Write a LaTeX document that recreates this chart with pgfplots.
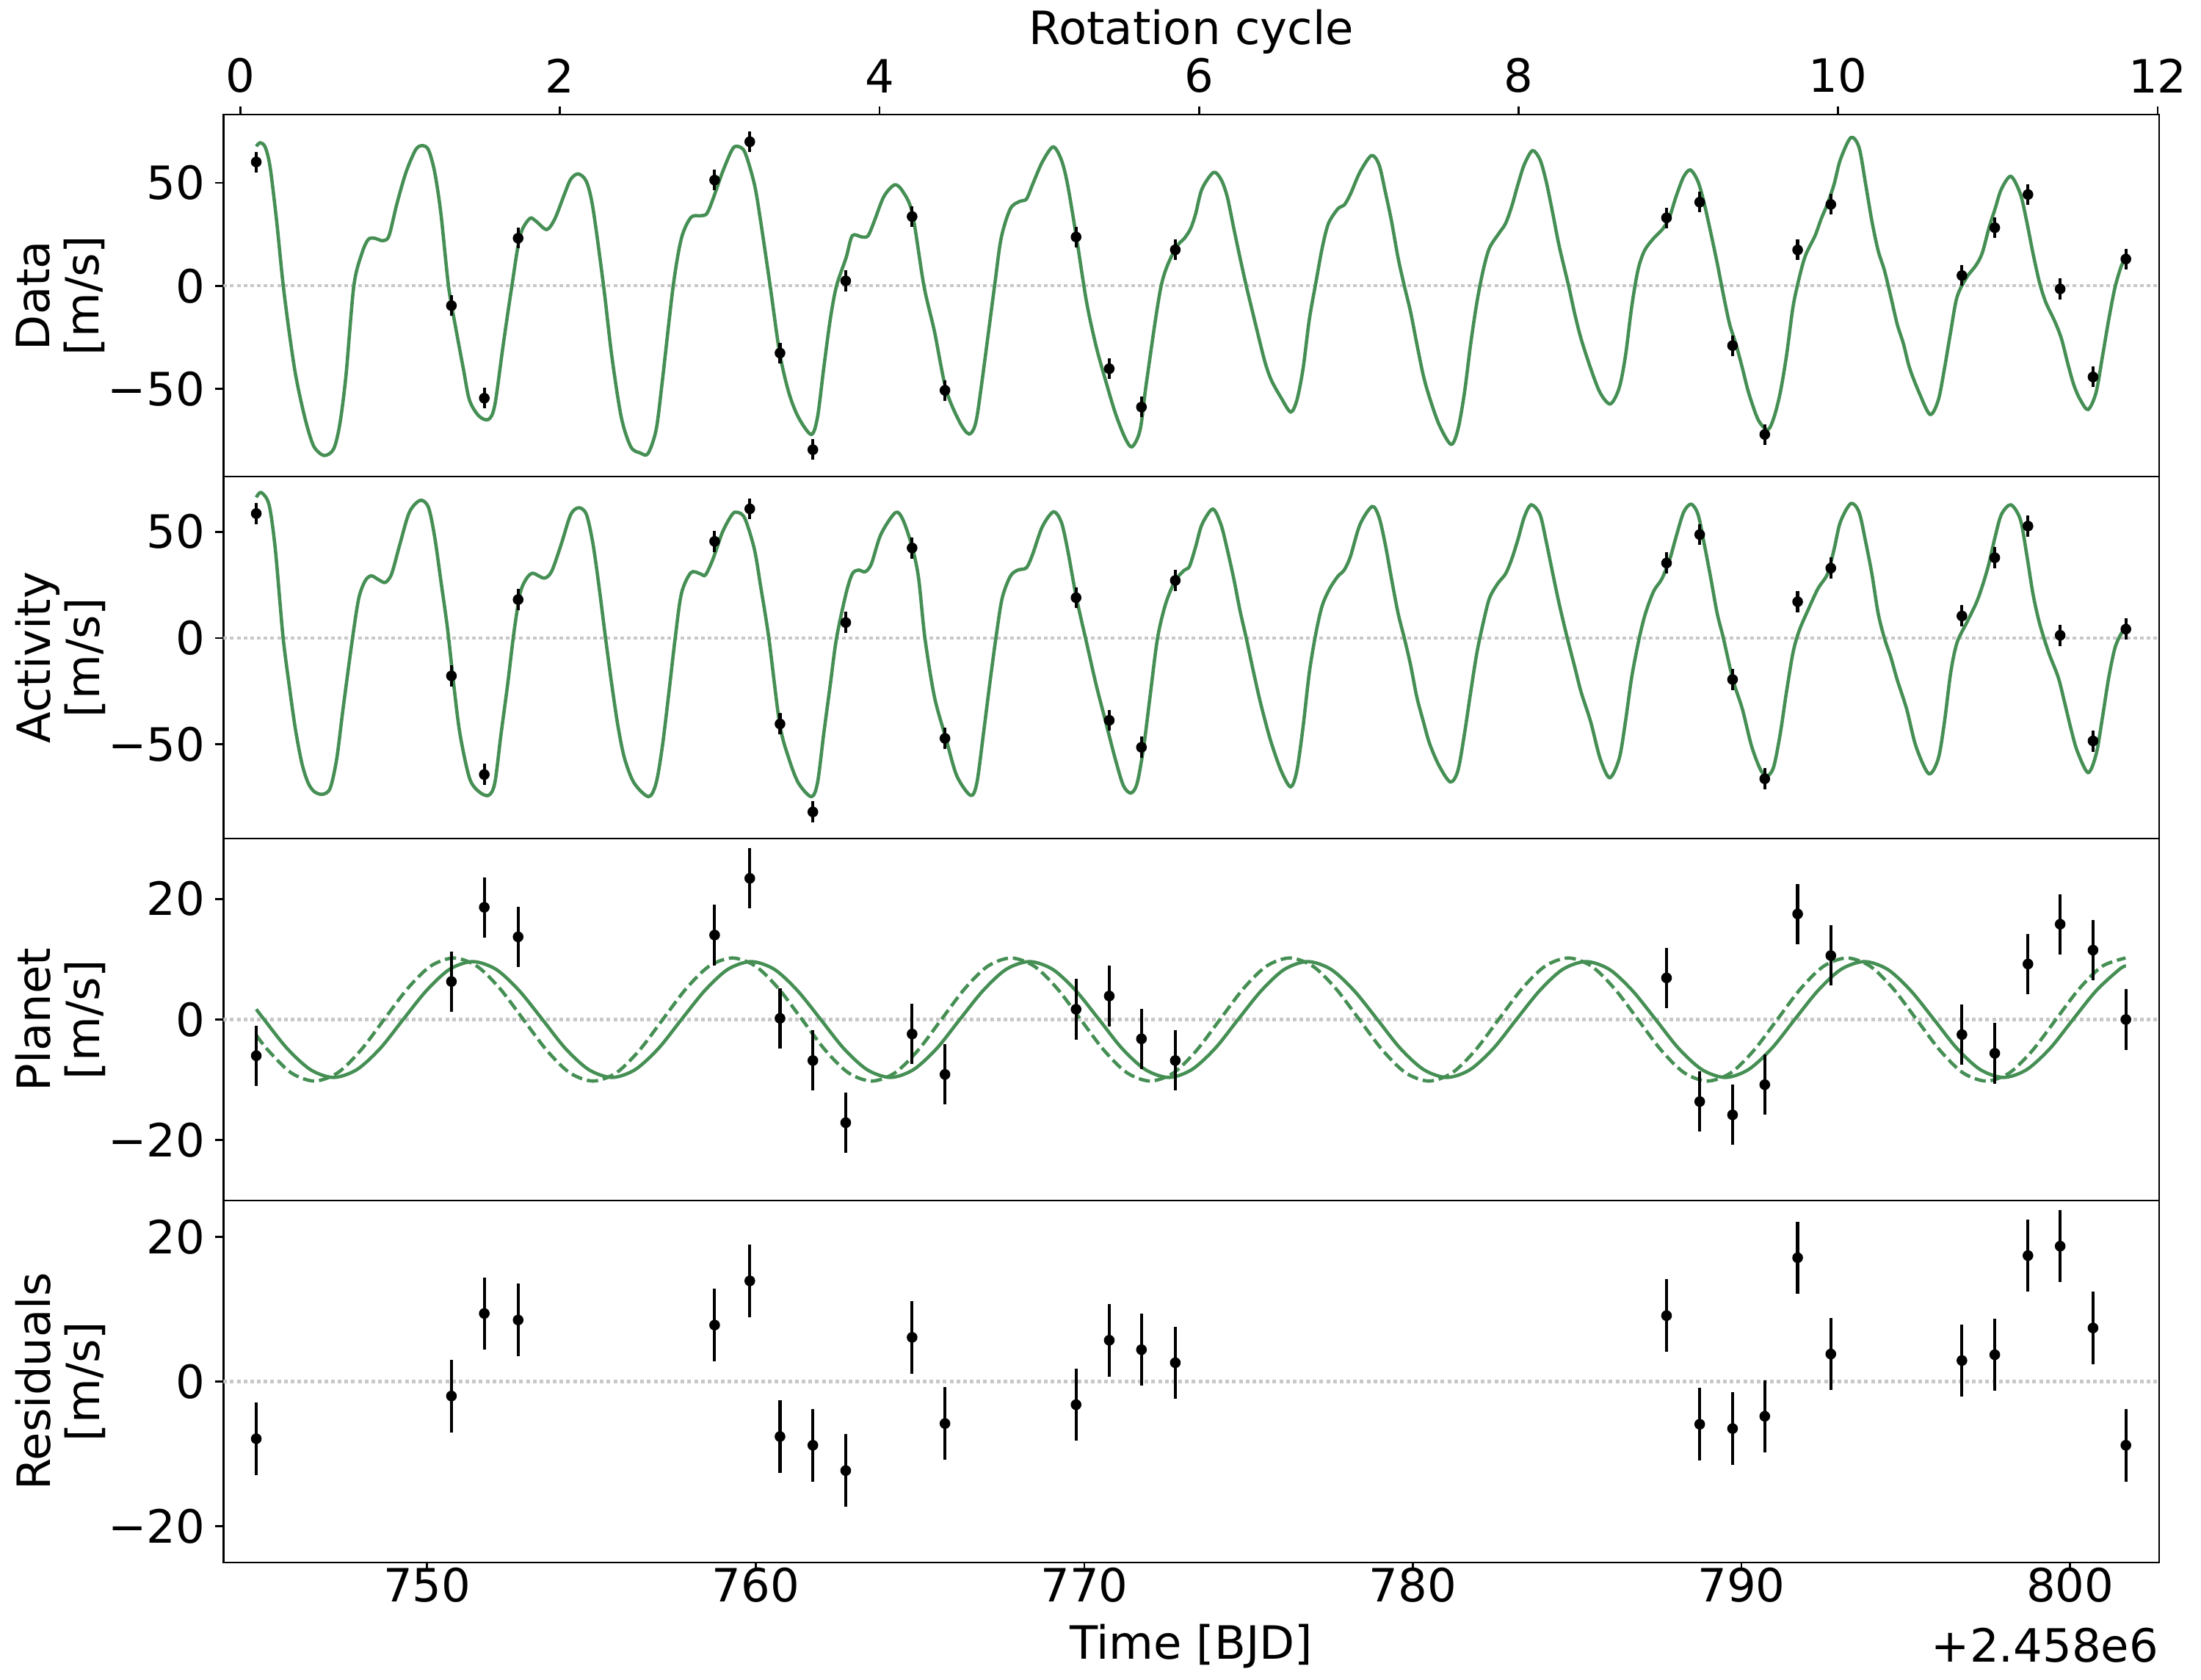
\documentclass[border=0pt]{standalone}
\usepackage{fontspec}
\setmainfont{DejaVu Sans}
\usepackage{pgfplots}
\pgfplotsset{compat=1.18}
\usepackage{pgfplotstable}
\definecolor{mgreen}{RGB}{69,143,84}
\definecolor{zgray}{RGB}{200,200,200}
\newcommand\tickfont{\fontsize{15bp}{18bp}\selectfont}
\newcommand\labfont{\fontsize{15bp}{16bp}\selectfont}

\pgfplotstableread{
t data act planet resid
744.80 60.1 58.6 -6.0 -7.9
750.74 -9.6 -17.8 6.3 -2.0
751.74 -54.5 -64.2 18.6 9.4
752.77 23.1 18.1 13.7 8.5
758.75 51.3 45.5 14.0 7.8
759.82 69.9 60.8 23.4 13.9
760.74 -32.6 -40.4 0.2 -7.6
761.74 -79.5 -81.8 -6.8 -8.8
762.74 2.4 7.3 -17.1 -12.3
764.76 33.6 42.4 -2.4 6.1
765.76 -50.7 -47.2 -9.1 -5.8
769.75 23.7 19.0 1.7 -3.2
770.76 -40.2 -38.7 3.9 5.7
771.74 -58.8 -51.4 -3.2 4.4
772.77 17.5 27.1 -6.8 2.6
787.72 33.0 35.3 6.9 9.1
788.73 40.6 48.7 -13.6 -5.9
789.73 -29.0 -19.5 -15.8 -6.5
790.71 -72.1 -66.2 -10.8 -4.8
791.71 17.4 17.1 17.5 17.1
792.72 39.5 32.9 10.6 3.8
796.71 5.0 10.4 -2.5 2.9
797.71 28.2 37.8 -5.6 3.7
798.72 44.3 52.7 9.2 17.4
799.70 -1.5 1.3 15.8 18.7
800.70 -44.2 -48.4 11.5 7.4
801.70 13.0 4.2 0.0 -8.8
}\obs

\pgfplotstableread{
t v
744.80 67.7
744.92 69.4
745.07 67.4
745.22 57.8
745.42 31.5
745.61 1.7
745.80 -22.2
745.99 -42.5
746.19 -58.0
746.38 -70.0
746.57 -78.4
746.86 -82.3
747.15 -79.3
747.34 -67.4
747.53 -43.6
747.77 0.0
748.02 16.0
748.21 22.5
748.40 23.1
748.65 21.9
748.84 24.3
749.08 39.8
749.36 55.2
749.65 66.0
749.85 68.0
750.04 66.0
750.23 55.2
750.42 35.0
750.65 0.0
750.85 -18.6
751.10 -40.0
751.29 -55.5
751.58 -63.2
751.87 -64.8
752.06 -57.9
752.31 -29.3
752.58 0.0
752.83 24.3
753.12 32.6
753.31 31.4
753.64 27.3
753.89 32.6
754.18 44.5
754.37 51.7
754.60 54.3
754.85 50.5
755.05 37.4
755.37 0.0
755.62 -34.0
755.91 -63.8
756.20 -78.1
756.49 -81.1
756.72 -81.4
756.97 -69.8
757.16 -46.0
757.49 0.0
757.74 23.1
758.03 33.2
758.32 34.0
758.51 35.0
758.70 42.1
758.99 55.2
759.28 66.0
759.44 67.7
759.67 64.8
759.96 49.3
760.15 31.4
760.44 0.0
760.73 -32.6
761.01 -51.9
761.30 -63.8
761.69 -72.1
761.88 -63.8
762.07 -40.0
762.27 -16.2
762.46 0.0
762.75 13.6
762.94 24.3
763.23 23.7
763.42 24.3
763.61 31.4
763.90 43.3
764.23 49.0
764.48 45.7
764.77 35.0
765.12 0.0
765.44 -22.1
765.79 -50.1
766.21 -66.2
766.50 -71.9
766.70 -66.2
766.89 -46.0
767.27 0.0
767.47 23.1
767.75 37.4
768.04 41.0
768.24 42.1
768.43 49.3
768.72 60.0
769.05 67.4
769.30 61.2
769.49 49.3
769.76 23.7
770.07 -7.9
770.36 -29.3
770.65 -46.0
770.94 -61.5
771.23 -73.4
771.45 -78.1
771.70 -69.8
771.90 -46.0
772.34 0.0
772.76 17.7
773.05 23.1
773.24 27.9
773.39 35.0
773.58 46.9
773.93 55.0
774.16 51.7
774.35 43.3
774.55 27.9
774.74 13.6
774.93 0.0
775.12 -12.6
775.32 -25.7
775.51 -37.6
775.70 -46.0
775.99 -54.3
776.28 -61.2
776.47 -55.5
776.66 -40.0
776.85 -16.2
777.05 1.7
777.24 18.3
777.43 30.2
777.72 37.4
777.91 39.2
778.10 44.5
778.39 55.2
778.74 63.2
778.97 58.8
779.16 45.7
779.35 31.4
779.55 13.6
779.74 0.0
779.93 -12.6
780.12 -28.1
780.32 -43.6
780.51 -54.3
780.80 -67.4
781.16 -76.9
781.37 -69.8
781.57 -51.9
781.76 -28.1
781.95 -7.9
782.14 7.6
782.33 18.3
782.62 25.5
782.82 30.2
783.01 38.6
783.20 49.3
783.39 58.8
783.64 65.6
783.87 61.2
784.06 50.5
784.26 35.0
784.45 19.5
784.74 0.0
784.93 -13.8
785.12 -25.7
785.41 -40.0
785.70 -51.9
786.01 -57.3
786.28 -49.5
786.47 -34.0
786.66 -10.2
786.85 7.6
787.05 17.1
787.33 23.1
787.62 27.9
787.82 33.8
788.01 43.3
788.24 52.9
788.45 56.2
788.68 50.5
788.87 39.8
789.07 25.5
789.26 11.2
789.45 -4.3
789.64 -18.6
789.83 -28.1
790.03 -40.0
790.22 -51.9
790.51 -65.0
790.80 -69.8
790.99 -63.8
791.18 -51.9
791.37 -34.0
791.57 -10.2
791.76 4.0
791.95 14.8
792.24 24.3
792.43 32.6
792.62 39.8
792.82 49.3
793.01 61.2
793.33 71.9
793.58 67.1
793.78 49.3
793.97 31.4
794.16 17.1
794.35 7.6
794.55 -5.5
794.74 -18.6
794.93 -28.1
795.12 -40.0
795.41 -51.9
795.74 -62.4
795.99 -55.5
796.18 -40.0
796.37 -22.1
796.56 -5.5
796.85 4.0
797.14 10.0
797.33 16.0
797.53 27.9
797.72 37.4
797.91 46.9
798.20 53.1
798.49 44.5
798.68 31.4
798.87 16.0
799.07 1.7
799.26 -7.9
799.54 -17.4
799.74 -25.7
799.93 -37.6
800.12 -48.3
800.32 -55.5
800.55 -60.0
800.79 -51.9
800.99 -34.0
801.18 -16.2
801.37 -0.7
801.57 10.0
801.70 13.0
}\datacurve

\pgfplotstableread{
t v
744.80 66.2
744.95 68.5
745.19 62.7
745.38 41.8
745.61 1.3
745.80 -21.9
745.99 -42.7
746.19 -59.0
746.38 -68.2
746.57 -72.3
746.82 -73.5
747.05 -70.6
747.25 -56.7
747.44 -33.5
747.73 0.0
747.92 18.7
748.11 26.8
748.30 29.3
748.54 27.3
748.73 26.2
748.92 30.2
749.17 44.1
749.46 59.2
749.79 64.8
750.04 61.5
750.23 47.6
750.42 26.8
750.62 4.6
750.81 -21.9
751.00 -45.1
751.29 -65.9
751.58 -72.3
751.87 -74.0
752.06 -68.2
752.25 -45.1
752.45 -21.9
752.64 2.4
752.83 21.0
753.02 27.9
753.22 30.5
753.56 28.2
753.79 31.4
754.08 44.1
754.37 58.1
754.62 61.3
754.85 58.1
755.05 44.1
755.24 23.3
755.43 0.0
755.62 -21.9
755.81 -41.6
756.01 -56.7
756.30 -68.2
756.74 -74.6
756.97 -68.2
757.16 -50.9
757.36 -25.4
757.55 0.0
757.74 21.0
758.03 30.8
758.32 30.2
758.47 29.7
758.70 37.2
758.99 49.9
759.28 58.1
759.44 59.2
759.67 56.3
759.96 41.8
760.15 24.4
760.40 0.0
760.73 -40.4
761.01 -56.7
761.30 -68.2
761.69 -74.6
761.88 -68.2
762.07 -45.1
762.27 -21.9
762.46 0.0
762.75 21.0
762.94 30.2
763.13 32.0
763.33 31.2
763.52 34.9
763.81 48.8
764.25 59.0
764.48 55.7
764.77 42.4
764.96 27.9
765.15 0.0
765.44 -27.7
765.79 -47.2
766.12 -64.8
766.54 -74.0
766.73 -68.2
766.93 -45.1
767.12 -21.9
767.31 0.0
767.50 18.7
767.75 29.1
767.98 32.0
768.24 33.1
768.43 39.5
768.72 52.3
769.06 59.4
769.30 54.6
769.49 41.8
769.76 19.0
770.07 -2.2
770.36 -21.9
770.65 -39.3
770.94 -56.7
771.19 -69.4
771.42 -72.9
771.61 -68.2
771.81 -50.9
772.00 -27.7
772.23 0.0
772.48 16.3
772.77 27.1
773.05 32.0
773.20 33.7
773.39 43.0
773.58 53.4
773.91 60.7
774.16 53.4
774.35 41.8
774.55 27.9
774.74 12.9
774.93 0.0
775.12 -13.8
775.32 -27.7
775.51 -39.3
775.70 -49.7
775.99 -62.4
776.28 -70.0
776.47 -62.4
776.66 -41.6
776.85 -16.1
777.05 2.4
777.24 15.2
777.47 23.3
777.72 29.1
777.91 32.0
778.10 38.4
778.39 53.4
778.76 61.9
778.97 56.9
779.16 44.1
779.35 27.9
779.55 11.7
779.74 0.0
779.93 -12.6
780.12 -27.7
780.32 -39.3
780.51 -49.7
780.80 -60.1
781.14 -67.7
781.37 -62.4
781.57 -45.1
781.76 -25.4
781.95 -6.8
782.14 7.1
782.33 18.7
782.58 25.6
782.82 30.2
783.01 37.2
783.20 46.5
783.39 56.9
783.60 62.7
783.87 58.1
784.06 45.3
784.26 30.2
784.45 16.3
784.70 0.0
784.93 -13.8
785.12 -25.4
785.41 -39.3
785.70 -56.7
785.99 -65.7
786.28 -56.7
786.47 -39.3
786.66 -18.4
786.89 0.0
787.08 11.7
787.33 22.1
787.58 27.9
787.82 37.2
788.01 47.6
788.24 59.2
788.47 63.0
788.68 58.1
788.87 44.1
789.07 27.9
789.26 11.7
789.45 0.0
789.74 -19.6
790.03 -33.5
790.31 -50.9
790.60 -62.5
790.82 -64.5
790.99 -60.1
791.18 -45.1
791.37 -25.4
791.57 -6.8
791.76 3.6
792.05 14.0
792.33 23.3
792.62 30.2
792.82 41.8
793.01 54.6
793.33 63.3
793.58 59.2
793.78 45.3
793.97 30.2
794.16 11.7
794.35 0.0
794.55 -9.2
794.74 -19.6
795.03 -33.5
795.31 -50.9
795.70 -63.8
795.99 -56.7
796.18 -39.3
796.37 -16.1
796.56 -2.2
796.85 7.1
797.14 16.3
797.33 24.4
797.53 34.9
797.72 47.6
797.91 58.1
798.20 62.7
798.49 55.7
798.68 39.5
798.87 21.0
799.07 7.1
799.35 -6.8
799.64 -18.4
799.83 -30.0
800.03 -42.8
800.22 -53.2
800.55 -63.3
800.80 -54.3
800.99 -37.0
801.18 -18.4
801.37 -4.5
801.57 2.4
801.70 4.2
}\actcurve

\pgfplotstableread{
t v
744.80 1.7
745.04 0
745.74 -4.8
746.45 -8.31
747.15 -9.6
747.86 -8.31
748.57 -4.8
749.27 0
749.98 4.8
750.68 8.31
751.39 9.6
752.10 8.31
752.80 4.8
753.51 0
754.21 -4.8
754.92 -8.31
755.63 -9.6
756.33 -8.31
757.04 -4.8
757.74 0
758.45 4.8
759.15 8.31
759.86 9.6
760.57 8.31
761.27 4.8
761.98 0
762.68 -4.8
763.39 -8.31
764.10 -9.6
764.80 -8.31
765.51 -4.8
766.21 0
766.92 4.8
767.62 8.31
768.33 9.6
769.04 8.31
769.74 4.8
770.45 0
771.15 -4.8
771.86 -8.31
772.57 -9.6
773.27 -8.31
773.98 -4.8
774.68 0
775.39 4.8
776.09 8.31
776.80 9.6
777.51 8.31
778.21 4.8
778.92 0
779.62 -4.8
780.33 -8.31
781.04 -9.6
781.74 -8.31
782.45 -4.8
783.15 0
783.86 4.8
784.56 8.31
785.27 9.6
785.98 8.31
786.68 4.8
787.39 0
788.09 -4.8
788.80 -8.31
789.51 -9.6
790.21 -8.31
790.92 -4.8
791.62 0
792.33 4.8
793.03 8.31
793.74 9.6
794.45 8.31
795.15 4.8
795.86 0
796.56 -4.8
797.27 -8.31
797.98 -9.6
798.68 -8.31
799.39 -4.8
800.09 0
800.80 4.8
801.50 8.31
801.70 8.9
}\plsolid

\pgfplotstableread{
t v
744.80 -2.6
745.16 -5.1
745.86 -8.83
746.57 -10.2
747.28 -8.83
747.98 -5.1
748.69 0
749.40 5.1
750.10 8.83
750.81 10.2
751.52 8.83
752.22 5.1
752.93 0
753.64 -5.1
754.34 -8.83
755.05 -10.2
755.76 -8.83
756.46 -5.1
757.17 0
757.88 5.1
758.58 8.83
759.29 10.2
760.00 8.83
760.70 5.1
761.41 0
762.12 -5.1
762.82 -8.83
763.53 -10.2
764.24 -8.83
764.94 -5.1
765.65 0
766.36 5.1
767.06 8.83
767.77 10.2
768.48 8.83
769.18 5.1
769.89 0
770.60 -5.1
771.30 -8.83
772.01 -10.2
772.72 -8.83
773.42 -5.1
774.13 0
774.84 5.1
775.54 8.83
776.25 10.2
776.96 8.83
777.66 5.1
778.37 0
779.08 -5.1
779.78 -8.83
780.49 -10.2
781.20 -8.83
781.90 -5.1
782.61 0
783.32 5.1
784.02 8.83
784.73 10.2
785.44 8.83
786.14 5.1
786.85 0
787.56 -5.1
788.26 -8.83
788.97 -10.2
789.68 -8.83
790.38 -5.1
791.09 0
791.80 5.1
792.50 8.83
793.21 10.2
793.92 8.83
794.62 5.1
795.33 0
796.04 -5.1
796.74 -8.83
797.45 -10.2
798.16 -8.83
798.86 -5.1
799.57 0
800.28 5.1
800.98 8.83
801.69 10.2
}\pldash

\pgfplotsset{
  panel/.style={
    scale only axis, width=633.2bp, height=118.4bp,
    xmin=743.80, xmax=802.71,
    axis line style={line width=0.65bp},
    every tick/.style={black, line width=0.65bp},
    tick align=outside, major tick length=2.6bp,
    xtick pos=bottom, ytick pos=left,
    xtick=\empty,
    tick label style={font=\tickfont},
    yticklabel style={anchor=east},
    xticklabel style={yshift=4.3bp},
    ylabel style={font=\labfont, align=center, at={(axis description cs:-0.0842,0.5)}, anchor=center},
    clip mode=individual,
  },
  zeroline/.style={zgray, line width=1bp, dash pattern=on 1.2bp off 1bp, forget plot},
  pts/.style={only marks, mark=*, mark size=1.55bp, black,
    error bars/.cd, y dir=both, y fixed=5, error mark=none,
    error bar style={line width=1bp, black}},
  gline/.style={mgreen, line width=1.1bp, smooth, tension=0.5, no markers},
}

\begin{document}
\begin{tikzpicture}
\useasboundingbox (-73.08bp,37.46bp) rectangle (646.92bp,-512.0bp);

% Data
\begin{axis}[panel, at={(0,0)}, anchor=north west,
  ymin=-92.5, ymax=83.1, ytick={-50,0,50}, yticklabels={−50,0,50},
  ylabel={Data\\{[m/s]}}]
\addplot[zeroline] coordinates {(743.80,0) (802.71,0)};
\addplot[gline] table[x=t,y=v]{\datacurve};
\addplot[pts] table[x=t,y=data]{\obs};
\end{axis}

% Rotation cycle axis
\begin{axis}[scale only axis, width=633.2bp, height=118.4bp, at={(0,0)}, anchor=north west,
  xmin=-0.107, xmax=12.009, ymin=0, ymax=1,
  axis x line*=top, axis y line=none,
  axis line style={line width=0.65bp},
  every tick/.style={black, line width=0.65bp},
  tick align=outside, major tick length=2.6bp,
  xtick={0,2,4,6,8,10,12}, xticklabels={0,2,4,6,8,10,12},
  tick label style={font=\tickfont},
  xticklabel style={yshift=1bp},
  xlabel={Rotation cycle},
  xlabel style={font=\labfont, at={(axis description cs:0.5,1)}, anchor=base, yshift=23bp}]
\addplot[draw=none, forget plot] coordinates {(0,0.5)};
\end{axis}

% Activity
\begin{axis}[panel, at={(0,-118.4bp)}, anchor=north west,
  ymin=-94.3, ymax=76.0, ytick={-50,0,50}, yticklabels={−50,0,50},
  ylabel={Activity\\{[m/s]}}]
\addplot[zeroline] coordinates {(743.80,0) (802.71,0)};
\addplot[gline] table[x=t,y=v]{\actcurve};
\addplot[pts] table[x=t,y=act]{\obs};
\end{axis}

% Planet
\begin{axis}[panel, at={(0,-236.8bp)}, anchor=north west,
  ymin=-30, ymax=30, ytick={-20,0,20}, yticklabels={−20,0,20},
  ylabel={Planet\\{[m/s]}}]
\addplot[zeroline] coordinates {(743.80,0) (802.71,0)};
\addplot[gline] table[x=t,y=v]{\plsolid};
\addplot[gline, dash pattern=on 3.7bp off 1.6bp] table[x=t,y=v]{\pldash};
\addplot[pts] table[x=t,y=planet]{\obs};
\end{axis}

% Residuals
\begin{axis}[panel, at={(0,-355.2bp)}, anchor=north west,
  ymin=-25, ymax=25, ytick={-20,0,20}, yticklabels={−20,0,20},
  xtick={750,760,770,780,790,800}, xticklabels={750,760,770,780,790,800},
  ylabel={Residuals\\{[m/s]}},
  xlabel={Time [BJD]},
  xlabel style={font=\labfont, at={(axis description cs:0.5,0)}, anchor=base, yshift=-31.5bp},
  extra description/.code={\node[anchor=base east, font=\labfont, inner sep=0pt, yshift=-32.5bp] at (1,0) {+2.458e6};}]
\addplot[zeroline] coordinates {(743.80,0) (802.71,0)};
\addplot[pts] table[x=t,y=resid]{\obs};
\end{axis}
\end{tikzpicture}
\end{document}
